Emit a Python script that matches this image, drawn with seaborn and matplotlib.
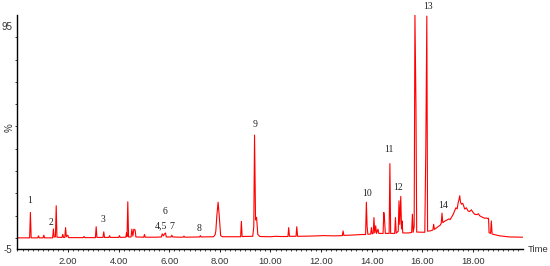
import matplotlib
matplotlib.use("Agg")
import matplotlib.pyplot as plt
import seaborn as sns
import pandas as pd
from matplotlib.ticker import MultipleLocator, FixedLocator

# ---- data (time in min, relative abundance %) ----
time = [
    0.00, 0.48, 0.51, 0.54, 0.80, 0.83, 0.86, 1.01, 1.04, 1.07,
    1.39, 1.42, 1.45, 1.50, 1.53, 1.56, 1.76, 1.79, 1.82, 1.87,
    1.90, 1.93, 1.99, 2.02, 2.60, 2.63, 2.66, 3.08, 3.11, 3.14,
    3.38, 3.41, 3.44, 3.61, 3.64, 3.67, 4.00, 4.03, 4.06, 4.28,
    4.31, 4.33, 4.36, 4.39, 4.49, 4.52, 4.56, 4.60, 4.65, 4.68,
    4.99, 5.02, 5.05, 5.50, 5.69, 5.72, 5.77, 5.80, 5.85, 5.88,
    6.07, 6.10, 6.13, 6.40, 6.55, 6.58, 6.61, 7.20, 7.23, 7.26,
    7.75, 7.81, 7.84, 7.88, 7.93, 7.98, 8.03, 8.10, 8.82, 8.85,
    8.88, 9.30, 9.34, 9.37, 9.41, 9.45, 9.50, 9.58, 10.00, 10.20,
    10.40, 10.69, 10.72, 10.75, 11.01, 11.04, 11.07, 11.60, 12.10, 12.50,
    12.84, 12.87, 12.90, 13.30, 13.60, 13.76, 13.79, 13.82, 13.85, 13.96,
    13.99, 14.02, 14.06, 14.09, 14.12, 14.16, 14.19, 14.25, 14.28, 14.45,
    14.48, 14.51, 14.54, 14.69, 14.72, 14.75, 14.91, 14.94, 14.97, 15.05,
    15.08, 15.11, 15.15, 15.18, 15.20, 15.23, 15.45, 15.58, 15.61, 15.64,
    15.68, 15.71, 15.75, 15.78, 16.10, 16.14, 16.18, 16.21, 16.30, 16.42,
    16.45, 16.48, 16.60, 16.71, 16.75, 16.78, 16.81, 16.90, 16.96, 17.05,
    17.10, 17.15, 17.22, 17.28, 17.33, 17.38, 17.42, 17.45, 17.48, 17.51,
    17.55, 17.60, 17.68, 17.74, 17.81, 17.87, 17.94, 18.00, 18.07, 18.15,
    18.22, 18.27, 18.37, 18.47, 18.55, 18.60, 18.62, 18.64, 18.70, 18.73,
    18.76, 18.80, 19.06, 19.46, 19.97,
]
signal = [
    0.0, 0.0, 11.4, 0.0, 0.0, 0.9, 0.0, 0.0, 1.2, 0.0,
    0.0, 4.0, 0.3, 0.5, 14.4, 0.3, 0.2, 1.6, 0.2, 0.2,
    4.6, 0.5, 1.2, 0.1, 0.1, 0.6, 0.1, 0.1, 5.0, 0.2,
    0.2, 2.7, 0.2, 0.2, 1.0, 0.2, 0.2, 1.0, 0.2, 0.3,
    2.3, 0.6, 16.2, 0.4, 0.4, 3.9, 0.8, 3.9, 3.5, 0.4,
    0.3, 1.5, 0.3, 0.3, 0.4, 1.8, 0.9, 1.6, 2.2, 0.4,
    0.4, 1.2, 0.4, 0.3, 0.3, 0.8, 0.3, 0.4, 1.0, 0.4,
    0.5, 1.4, 3.1, 10.0, 16.0, 9.0, 1.0, 0.5, 0.5, 7.4,
    0.6, 0.7, 5.0, 46.1, 8.0, 9.2, 1.5, 0.6, 0.5, 0.7,
    0.6, 0.6, 4.6, 0.7, 0.7, 5.0, 0.7, 0.8, 1.0, 0.9,
    1.0, 3.1, 1.1, 1.3, 1.5, 1.5, 16.0, 5.0, 1.6, 1.7,
    4.6, 1.8, 2.0, 9.1, 2.2, 5.4, 2.0, 3.9, 2.0, 2.0,
    11.4, 8.0, 2.0, 2.0, 33.3, 2.0, 2.0, 9.1, 2.1, 3.0,
    16.6, 6.0, 18.6, 4.0, 7.6, 2.2, 2.2, 2.4, 10.6, 2.5,
    5.0, 100.0, 60.0, 2.6, 2.5, 40.0, 99.5, 3.0, 3.1, 3.5,
    6.1, 3.8, 4.8, 5.7, 6.6, 11.1, 6.8, 7.6, 7.9, 8.5,
    8.2, 9.1, 10.5, 12.1, 13.5, 13.0, 15.9, 17.0, 18.9, 16.0,
    15.1, 15.5, 12.9, 13.5, 12.1, 11.8, 12.6, 11.5, 10.6, 10.4,
    10.8, 9.9, 9.3, 8.8, 8.9, 8.6, 8.8, 2.3, 2.0, 7.6,
    1.8, 1.6, 0.9, 0.4, 0.3,
]

peak_labels = ["1", "2", "3", "4,5", "6", "7", "8", "9", "10", "11", "12", "13", "14"]
label_time = [0.49, 1.32, 3.36, 5.66, 5.85, 6.11, 7.18, 9.41, 13.82, 14.69, 15.06, 16.21, 16.82]
label_value = [16.8, 7.0, 8.3, 5.2, 11.9, 5.2, 4.0, 51.0, 19.7, 39.7, 22.7, 103.8, 14.6]

y_tick_values = [-5, 95]
y_tick_labels = ["-5", "95"]
x_tick_values = [2, 4, 6, 8, 10, 12, 14, 16, 18]
x_tick_labels = ["2.00", "4.00", "6.00", "8.00", "10.00", "12.00", "14.00", "16.00", "18.00"]

df = pd.DataFrame({"time": time, "signal": signal})

sns.set_style("ticks")
plt.rcParams["font.family"] = ["Liberation Sans", "DejaVu Sans"]

fig = plt.figure(figsize=(5.5, 2.66), dpi=100)
ax = fig.add_axes([17.5 / 550, (266 - 249) / 266, (522.7 - 17.5) / 550, (249 - 15) / 266])

sns.lineplot(data=df, x="time", y="signal", estimator=None, sort=False,
             color="#ff0000", linewidth=0.8, ax=ax)

ax.set_xlim(0, 19.97)
ax.set_ylim(-5, 100)
ax.set_xlabel("")
ax.set_ylabel("")

for s in ["top", "right"]:
    ax.spines[s].set_visible(False)
for s in ["left", "bottom"]:
    ax.spines[s].set_linewidth(1.0)
    ax.spines[s].set_color("black")

ax.set_xticks(x_tick_values)
ax.set_xticklabels(x_tick_labels, fontsize=6.8, color="#333333")
ax.xaxis.set_minor_locator(MultipleLocator(0.2))
ax.tick_params(axis="x", which="major", length=2.5, width=0.7, pad=3.5, direction="out")
ax.tick_params(axis="x", which="minor", length=1.6, width=0.6, direction="out")

ax.set_yticks(y_tick_values)
ax.set_yticklabels(y_tick_labels, fontsize=7, color="#333333")
ax.yaxis.set_minor_locator(FixedLocator(list(range(0, 91, 10))))
ax.tick_params(axis="y", which="major", length=0, pad=3.5)
ax.tick_params(axis="y", which="minor", length=1.6, width=0.6, direction="out")

for lab, tx, ty in zip(peak_labels, label_time, label_value):
    ax.text(tx, ty, lab, ha="center", va="center", fontsize=7,
            family=["Liberation Serif", "DejaVu Serif"], color="#222222", clip_on=False)

fig.text(528 / 550, 1 - 249 / 266, "Time", ha="left", va="center", fontsize=6.8, color="#333333")
fig.text(10 / 550, 1 - 128 / 266, "%", ha="center", va="center", rotation=90, fontsize=7, color="#333333")

fig.savefig("out.png", dpi=100)
